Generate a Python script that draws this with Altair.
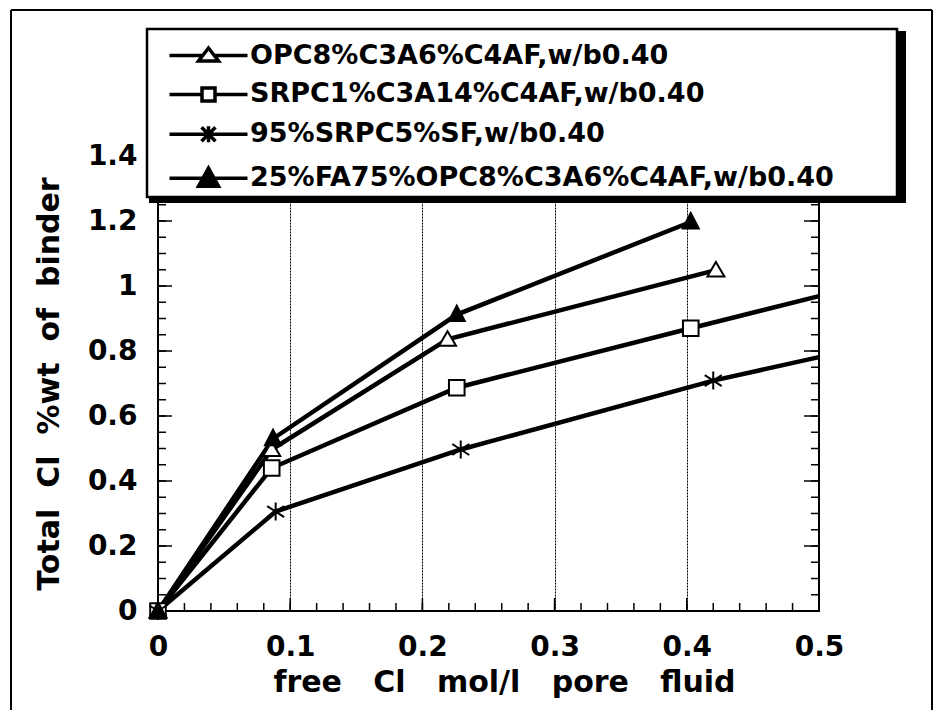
import altair as alt
import pandas as pd

# ---- data ----
series = [
    "OPC8%C3A6%C4AF,w/b0.40",
    "SRPC1%C3A14%C4AF,w/b0.40",
    "95%SRPC5%SF,w/b0.40",
    "25%FA75%OPC8%C3A6%C4AF,w/b0.40",
]
x_opc = [0.0, 0.086, 0.219, 0.422]
y_opc = [0.0, 0.497, 0.836, 1.049]
x_srpc = [0.0, 0.086, 0.226, 0.403]
y_srpc = [0.0, 0.440, 0.687, 0.870]
x_sf = [0.0, 0.089, 0.229, 0.420]
y_sf = [0.0, 0.306, 0.497, 0.709]
x_fa = [0.0, 0.087, 0.226, 0.403]
y_fa = [0.0, 0.530, 0.912, 1.197]
# where two lines leave the plot at the right edge (no marker there)
edge_x_srpc, edge_y_srpc = 0.5, 0.969
edge_x_sf, edge_y_sf = 0.5, 0.781

x_label_values = [0, 0.1, 0.2, 0.3, 0.4, 0.5]
y_label_values = [0, 0.2, 0.4, 0.6, 0.8, 1, 1.2, 1.4]
x_minor = [round(0.02 * i, 2) for i in range(26)]
y_minor = [round(0.05 * i, 2) for i in range(29)]

# ---- table ----
rows = []
for name, xs_, ys_ in zip(series, [x_opc, x_srpc, x_sf, x_fa], [y_opc, y_srpc, y_sf, y_fa]):
    for a, b in zip(xs_, ys_):
        rows.append({"series": name, "x": a, "y": b, "marker": True})
rows.append({"series": series[1], "x": edge_x_srpc, "y": edge_y_srpc, "marker": False})
rows.append({"series": series[2], "x": edge_x_sf, "y": edge_y_sf, "marker": False})
df = pd.DataFrame(rows)

W, H = 661, 455
FONT = "DejaVu Sans"
NB = "\u00a0"

plot_paths = [
    "M0,-0.8L0.85,0.65L-0.85,0.65Z",
    "M-0.78,-0.78H0.78V0.78H-0.78Z",
    "M0,-0.9V0.9M-0.85,-0.55L0.85,0.55M-0.85,0.55L0.85,-0.55",
    "M0,-0.9L0.8,0.65L-0.8,0.65Z",
]
legend_paths = [
    "M-3.9,0H-0.58M0.58,0H3.9M0,-0.75L1,0.55L-1,0.55Z",
    "M-3.9,0H-0.65M0.65,0H3.9M-0.65,-0.65H0.65V0.65H-0.65Z",
    "M-3.9,0H3.9M0,-0.8V0.8M-0.7,-0.7L0.7,0.7M-0.7,0.7L0.7,-0.7",
    "M-3.9,0H3.9M0,-1L1,0.8L-1,0.8Z",
]
fills = ["white", "white", "white", "black"]
strokes = ["black", "black", "black", "black"]

xs = alt.Scale(domain=[0, 0.5], nice=False, zero=False)
ys = alt.Scale(domain=[0, 1.4], nice=False, zero=False)

x_axis = alt.Axis(
    values=x_label_values, format="~g",
    title=f"free{NB*3}Cl{NB*3}mol/l{NB*3}pore{NB*3}fluid",
    grid=True, gridColor="black", gridWidth=1, gridDash=[2, 1],
    domain=False, ticks=False, tickSize=0,
    labelPadding=44, labelBaseline="alphabetic", labelFlush=False, labelOverlap=False,
    labelFont=FONT, labelFontSize=28, labelFontWeight="bold", labelColor="black",
    titleFont=FONT, titleFontSize=30, titleFontWeight="bold", titleColor="black",
    titleX=346, titleY=80, titleBaseline="alphabetic", titleAlign="center",
)
y_axis = alt.Axis(
    values=y_label_values, format="~g",
    title=f"Total{NB*2}Cl{NB*2}%wt{NB*2}of{NB*2}binder",
    grid=False, domain=False, ticks=False, tickSize=0,
    labelPadding=21, labelOverlap=False, labelFlush=False,
    labelFont=FONT, labelFontSize=28, labelFontWeight="bold", labelColor="black",
    titleFont=FONT, titleFontSize=30, titleFontWeight="bold", titleColor="black",
    titleX=-100, titleY=227.5, titleBaseline="alphabetic", titleAlign="center",
)

one = pd.DataFrame({"k": [0]})

# outer figure border (no bottom edge in the reference)
outer_top = alt.Chart(one).mark_rule(color="black", strokeWidth=2).encode(
    x=alt.value(-147), x2=alt.value(774), y=alt.value(-146))
outer_left = alt.Chart(one).mark_rule(color="black", strokeWidth=2).encode(
    x=alt.value(-147), y=alt.value(-146), y2=alt.value(554))
outer_right = alt.Chart(one).mark_rule(color="black", strokeWidth=2).encode(
    x=alt.value(774), y=alt.value(-146), y2=alt.value(554))

X = alt.X("x:Q", scale=xs, axis=x_axis)
Y = alt.Y("y:Q", scale=ys, axis=y_axis)


def ytick(values, x0, x1):
    return alt.Chart(pd.DataFrame({"v": values})).mark_rule(color="black", strokeWidth=1.5).encode(
        y=alt.Y("v:Q", scale=ys, axis=y_axis), x=alt.value(x0), x2=alt.value(x1))


def xtick(values, length):
    return alt.Chart(pd.DataFrame({"v": values})).mark_rule(color="black", strokeWidth=1.5).encode(
        x=alt.X("v:Q", scale=xs, axis=x_axis), y=alt.value(H), y2=alt.value(H - length))


ticks = [
    ytick(y_minor, 0, 8), ytick(y_label_values, 0, 14),
    ytick(y_minor, W, W - 8), ytick(y_label_values, W, W - 15),
    xtick(x_minor, 8), xtick(x_label_values, 13),
]

frame = alt.Chart(one).mark_rect(fillOpacity=0, stroke="black", strokeWidth=2).encode(
    x=alt.value(0), x2=alt.value(W), y=alt.value(0), y2=alt.value(H))

lines = alt.Chart(df).mark_line(color="black", strokeWidth=4.5).encode(
    x=X, y=Y, detail="series:N",
)

points = alt.Chart(df).transform_filter("datum.marker").mark_point(
    opacity=1, strokeWidth=2, size=400
).encode(
    x=X, y=Y,
    shape=alt.Shape("series:N", scale=alt.Scale(domain=series, range=plot_paths), legend=None),
    fill=alt.Fill("series:N", scale=alt.Scale(domain=series, range=fills), legend=None),
    stroke=alt.Stroke("series:N", scale=alt.Scale(domain=series, range=strokes), legend=None),
)

# legend box with drop shadow
shadow = alt.Chart(one).mark_rect(fill="black").encode(
    x=alt.value(-9), x2=alt.value(748), y=alt.value(-125), y2=alt.value(47))
box = alt.Chart(one).mark_rect(fill="white", stroke="black", strokeWidth=2.5).encode(
    x=alt.value(-11), x2=alt.value(739), y=alt.value(-127), y2=alt.value(41))

leg_def = alt.Legend(
    title=None, orient="none", legendX=0, legendY=-114, direction="vertical",
    symbolSize=400, symbolStrokeWidth=3.5, symbolStrokeColor="black",
    symbolOffset=37, labelOffset=28, rowPadding=10.9, padding=0,
    labelFont=FONT, labelFontSize=27, labelFontWeight="bold", labelColor="black",
    labelLimit=1000, symbolOpacity=1,
)
legend_layer = alt.Chart(pd.DataFrame({"series": series})).transform_filter("false").mark_point(
    opacity=1, strokeWidth=3.5, size=400
).encode(
    shape=alt.Shape("series:N", scale=alt.Scale(domain=series, range=legend_paths), legend=leg_def),
    fill=alt.Fill("series:N", scale=alt.Scale(domain=series, range=fills), legend=leg_def),
    stroke=alt.Stroke("series:N", scale=alt.Scale(domain=series, range=strokes), legend=leg_def),
)

chart = alt.layer(
    outer_top, outer_left, outer_right, *ticks, frame, lines, points,
    shadow, box, legend_layer,
).resolve_scale(
    shape="independent", fill="independent", stroke="independent"
).properties(
    width=W, height=H,
    padding={"left": 10, "top": 9, "right": 0, "bottom": 0},
).configure_view(stroke="transparent")

chart.save("out.html", embed_options={"renderer": "svg", "actions": False})
